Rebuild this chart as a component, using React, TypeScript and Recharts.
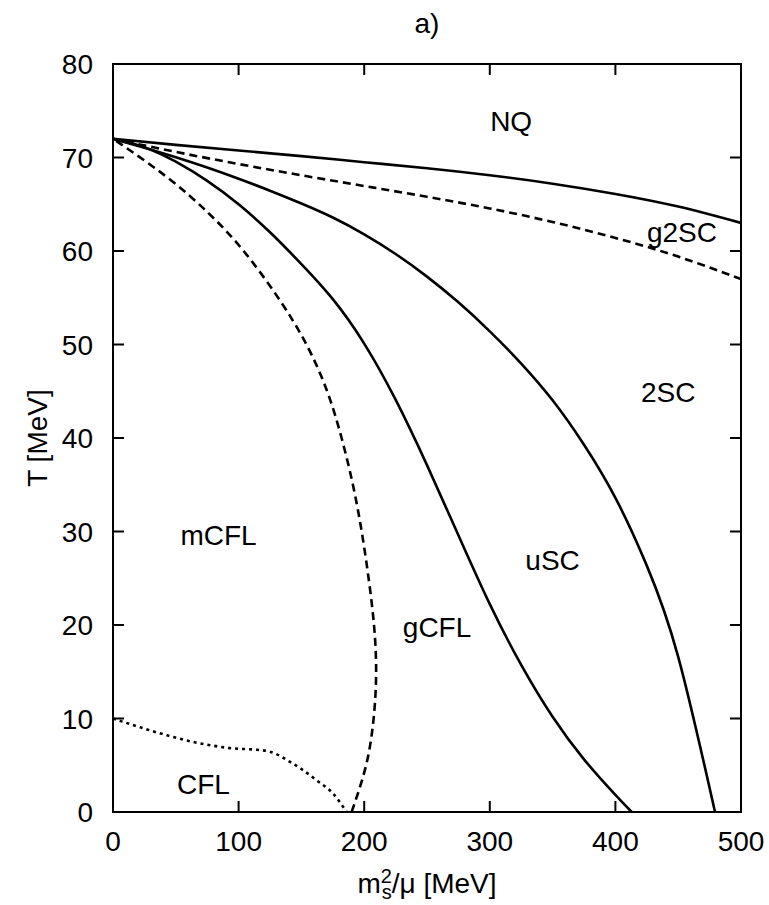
import { LineChart, Line, XAxis, YAxis, ReferenceArea, ReferenceDot } from "recharts";

// phase boundaries, x = m_s^2/mu [MeV], t = T [MeV]
const NQ_X = [0, 50, 100, 150, 200, 250, 300, 350, 400, 450, 500];
const NQ_T = [72, 71.35, 70.75, 70.15, 69.5, 68.85, 68.1, 67.2, 66.1, 64.75, 63.0];

const G2SC_X = [0, 50, 100, 150, 200, 250, 300, 350, 400, 450, 500];
const G2SC_T = [72, 70.6, 69.3, 68.1, 66.95, 65.8, 64.55, 63.1, 61.4, 59.4, 57.0];

const SC2_X = [0, 25, 50, 75, 100, 125, 150, 175, 200, 225, 250, 275, 300, 325, 350, 375, 400, 425, 450, 479.3];
const SC2_T = [72, 71.05, 70.03, 68.93, 67.73, 66.45, 65.08, 63.58, 61.78, 59.68, 57.26, 54.51, 51.41, 47.96, 44.03, 39.28, 33.6, 26.35, 16.6, 0];

const USC_X = [0, 25, 50, 75, 100, 125, 150, 175, 200, 225, 250, 275, 300, 325, 350, 375, 400, 413];
const USC_T = [72, 71.1, 69.55, 67.5, 65.0, 62.0, 58.6, 54.85, 50.1, 44.1, 37.1, 29.6, 22.23, 15.73, 10.18, 5.63, 1.83, 0];

// ordered bottom to top, the curve bends back in x
const MCFL_X = [190, 201.5, 207.5, 209.5, 207.8, 203.5, 198, 191, 182, 170.5, 154, 131.5, 104, 76.4, 42, 0];
const MCFL_T = [0, 5, 10, 15, 20, 25, 30, 35, 40, 45, 50, 55, 60, 64, 68, 72];

const CFL_X = [0, 16, 43, 69, 96, 115, 125, 133, 141, 150, 162, 175, 186];
const CFL_T = [10.0, 9.3, 8.2, 7.35, 6.8, 6.65, 6.45, 6.0, 5.35, 4.6, 3.4, 2.0, 0];

const X_TICKS = [0, 100, 200, 300, 400, 500];
const Y_TICKS = [0, 10, 20, 30, 40, 50, 60, 70, 80];

const REGION_NAMES = ["NQ", "g2SC", "2SC", "uSC", "gCFL", "mCFL", "CFL"];
const REGION_X = [317, 453, 442, 350, 258, 84, 72];
const REGION_T = [73.9, 62.0, 44.9, 27.0, 19.8, 29.6, 3.0];

const W = 769;
const H = 905;
const LEFT = 113;
const RIGHT = 741;
const TOP = 64;
const BOTTOM = 812;
const PLOT_W = RIGHT - LEFT;
const PLOT_H = BOTTOM - TOP;
const FONT = "'Liberation Sans', Arial, Helvetica, sans-serif";
const FS = 28;
const TICK = 11;

const zip = (xs: number[], ts: number[]) => xs.map((x, i) => ({ x, t: ts[i] }));

const nqData = zip(NQ_X, NQ_T);
const g2scData = zip(G2SC_X, G2SC_T);
const sc2Data = zip(SC2_X, SC2_T);
const uscData = zip(USC_X, USC_T);
const mcflData = zip(MCFL_X, MCFL_T);
const cflData = zip(CFL_X, CFL_T);

const XTick = (props: any) => {
  const { x, y, payload } = props;
  return (
    <g>
      <line x1={x} y1={y} x2={x} y2={y - TICK} stroke="#000" strokeWidth={2} />
      <line x1={x} y1={y - PLOT_H} x2={x} y2={y - PLOT_H + TICK} stroke="#000" strokeWidth={2} />
      <text x={x} y={y + 39} textAnchor="middle" fontSize={FS} fontFamily={FONT} fill="#000">
        {payload.value}
      </text>
    </g>
  );
};

const YTick = (props: any) => {
  const { x, y, payload } = props;
  return (
    <g>
      <line x1={x} y1={y} x2={x + TICK} y2={y} stroke="#000" strokeWidth={2} />
      <line x1={x + PLOT_W} y1={y} x2={x + PLOT_W - TICK} y2={y} stroke="#000" strokeWidth={2} />
      <text x={x - 20} y={y + 10} textAnchor="end" fontSize={FS} fontFamily={FONT} fill="#000">
        {payload.value}
      </text>
    </g>
  );
};

const regionLabel = (name: string) => (p: any) => (
  <text x={p.cx} y={p.cy} dy="0.36em" textAnchor="middle" fontSize={FS} fontFamily={FONT} fill="#000">
    {name}
  </text>
);

const lineProps = {
  dataKey: "t",
  stroke: "#000",
  strokeWidth: 2.6,
  dot: false,
  activeDot: false,
  isAnimationActive: false,
};

export default function App() {
  return (
    <div style={{ position: "absolute", left: 0, top: 0, width: W, height: H, background: "#fff", fontFamily: FONT }}>
      <LineChart
        width={W}
        height={H}
        margin={{ top: TOP, right: W - RIGHT, left: LEFT - 60, bottom: H - BOTTOM - 40 }}
      >
        <XAxis
          type="number"
          dataKey="x"
          domain={[0, 500]}
          ticks={X_TICKS}
          allowDataOverflow
          axisLine={false}
          tickLine={false}
          tickSize={0}
          tickMargin={0}
          height={40}
          tick={XTick}
        />
        <YAxis
          type="number"
          dataKey="t"
          domain={[0, 80]}
          ticks={Y_TICKS}
          allowDataOverflow
          axisLine={false}
          tickLine={false}
          tickSize={0}
          tickMargin={0}
          width={60}
          tick={YTick}
        />
        <Line {...lineProps} data={nqData} type="natural" />
        <Line {...lineProps} data={g2scData} type="natural" strokeDasharray="8 5" />
        <Line {...lineProps} data={sc2Data} type="natural" />
        <Line {...lineProps} data={uscData} type="natural" />
        <Line {...lineProps} data={mcflData} type="natural" strokeDasharray="8 5" />
        <Line {...lineProps} data={cflData} type="monotone" strokeDasharray="3 4" />
        <ReferenceArea x1={0} x2={500} y1={0} y2={80} fill="none" stroke="#000" strokeWidth={2} ifOverflow="visible" />
        {REGION_NAMES.map((name, i) => (
          <ReferenceDot key={name} x={REGION_X[i]} y={REGION_T[i]} r={0} ifOverflow="visible" shape={regionLabel(name)} />
        ))}
      </LineChart>
      <div style={{ position: "absolute", left: LEFT, width: PLOT_W, top: 6, textAlign: "center", fontSize: FS, lineHeight: "36px" }}>
        a)
      </div>
      <div
        style={{
          position: "absolute",
          left: 38 - 100,
          top: (TOP + BOTTOM) / 2 - 18,
          width: 200,
          textAlign: "center",
          fontSize: FS,
          lineHeight: "36px",
          transform: "rotate(-90deg)",
        }}
      >
        T [MeV]
      </div>
      <div style={{ position: "absolute", left: LEFT, width: PLOT_W, top: 866, textAlign: "center", fontSize: FS, lineHeight: "36px" }}>
        m
        <span style={{ position: "relative", display: "inline-block", width: 11, height: 0 }}>
          <span style={{ position: "absolute", left: 0, top: -28, fontSize: 20, lineHeight: "23px" }}>2</span>
          <span style={{ position: "absolute", left: 1, top: -12, fontSize: 20, lineHeight: "23px" }}>s</span>
        </span>
        /μ [MeV]
      </div>
    </div>
  );
}
